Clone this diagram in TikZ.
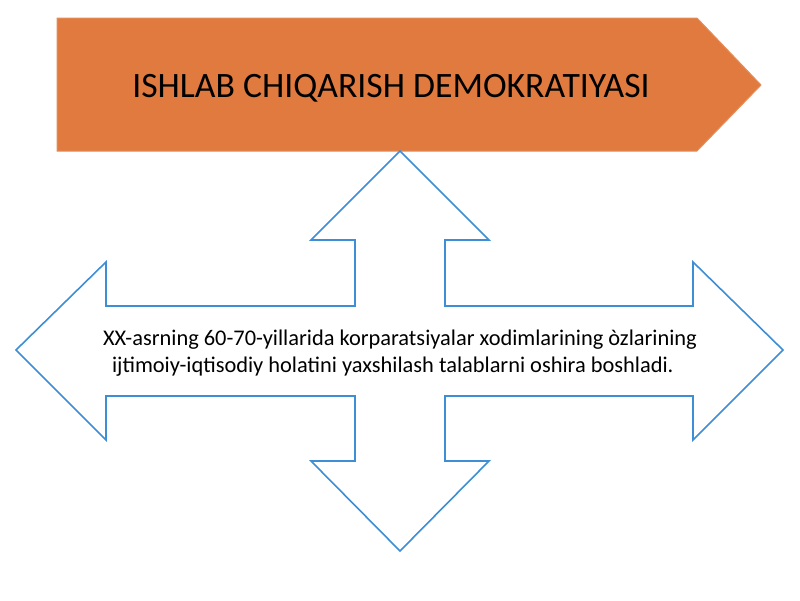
\documentclass[tikz,border=0pt]{standalone}
\usepackage{fontspec}
\setmainfont{Carlito}
\usepackage{tikz}
\definecolor{bannerorange}{RGB}{224,122,62}
\definecolor{arrowblue}{RGB}{62,142,214}
\tikzset{banner/.style={fill=bannerorange, draw=bannerorange!85!white, line width=1pt}}
\tikzset{crossarrow/.style={draw=arrowblue, fill=white, line width=1.6pt, line join=miter}}
\tikzset{titletext/.style={font=\fontsize{35.7}{42}\selectfont, text=black}}
\tikzset{bodytext/.style={font=\fontsize{22.4}{27}\selectfont, text=black, align=left}}

\begin{document}
\begin{tikzpicture}[x=1pt,y=-1pt]
\useasboundingbox (0,0) rectangle (800,600);
%banner on top
\draw[banner] (57,18)--(697,18)--(761,85)--(697,151)--(57,151)--cycle;
\node (title) at (391,88)[titletext]{ISHLAB CHIQARISH DEMOKRATIYASI};
%four-way arrow
\draw[crossarrow] (400,151)--(489,240)--(445,240)--(445,306)--(693,306)--(693,262)--(783,350)
  --(693,440)--(693,396)--(445,396)--(445,461)--(489,461)--(400,551)--(311,461)--(355,461)
  --(355,396)--(106,396)--(106,440)--(16,350)--(106,262)--(106,306)--(355,306)--(355,240)--(311,240)--cycle;
\node (body) at (400,353)[bodytext]{XX-asrning 60-70-yillarida korparatsiyalar xodimlarining òzlarining\\ \hspace*{9pt}ijtimoiy-iqtisodiy holatini yaxshilash talablarni oshira boshladi.};
\end{tikzpicture}
\end{document}
